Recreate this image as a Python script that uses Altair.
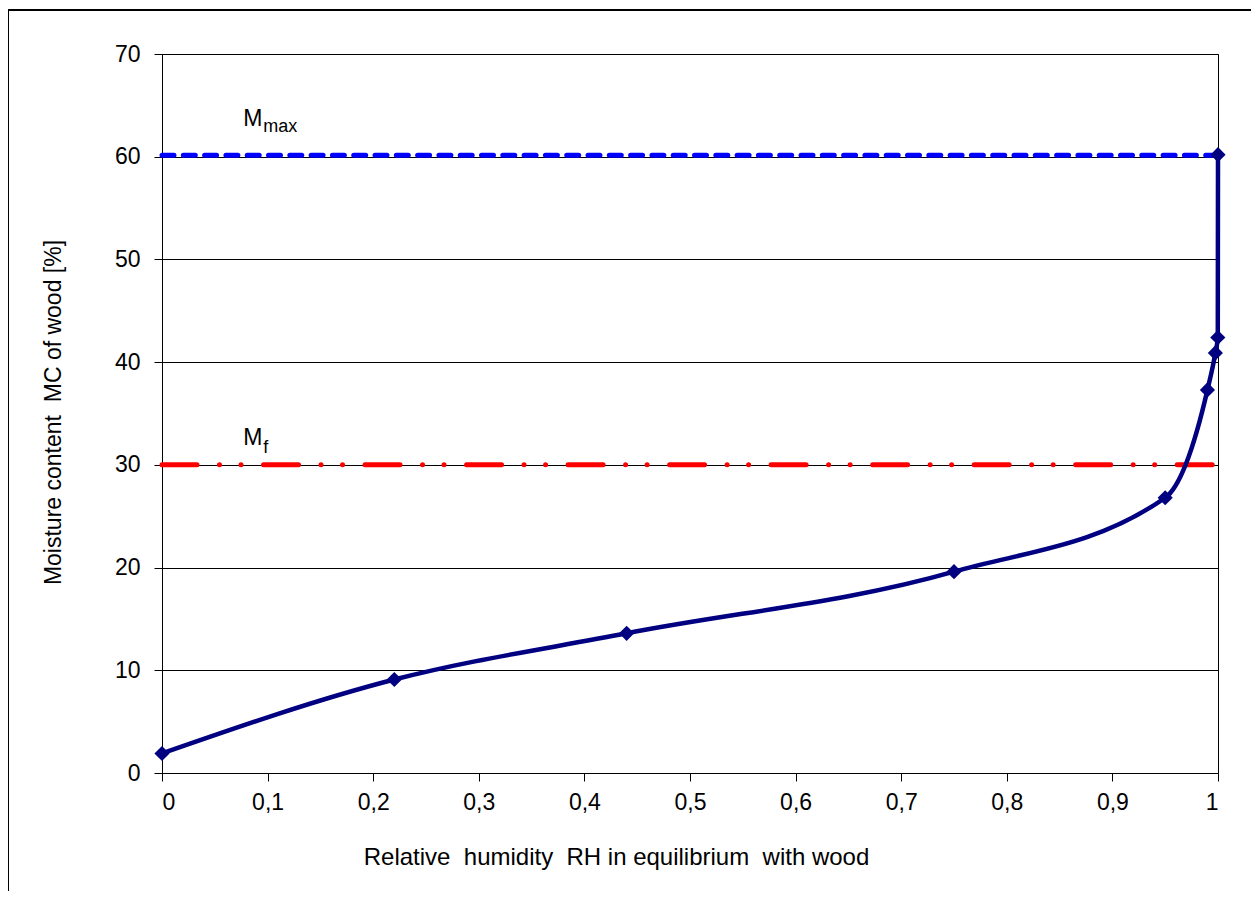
import altair as alt
import pandas as pd

# ---- data ----
rh = [0.0, 0.22, 0.44, 0.75, 0.95, 0.99, 0.9975, 0.9998, 1.0]
mc = [1.9, 9.1, 13.6, 19.6, 26.8, 37.3, 40.9, 42.4, 60.2]

ref_names = ["M", "M"]
ref_subs = ["max", "f"]
ref_values = [60.15, 30.0]
ref_label_x = [0.077, 0.077]

x_ticks = [0, 0.1, 0.2, 0.3, 0.4, 0.5, 0.6, 0.7, 0.8, 0.9, 1.0]
y_ticks = [0, 10, 20, 30, 40, 50, 60, 70]

NB = "\u00a0"
x_title = f"Relative {NB}humidity {NB}RH in equilibrium {NB}with wood"
y_title = f"Moisture content {NB}MC of wood [%]"

FONT = "Liberation Sans"
W, H = 1056, 719

curve = pd.DataFrame({"rh": rh, "mc": mc})
mmax = pd.DataFrame({"x0": [0.0], "x1": [1.0], "y": [ref_values[0]]})
mf = pd.DataFrame({"x0": [0.0], "x1": [1.0], "y": [ref_values[1]]})
lab_max = pd.DataFrame({"x": [ref_label_x[0]], "y": [ref_values[0]], "name": [ref_names[0]], "sub": [ref_subs[0]]})
lab_f = pd.DataFrame({"x": [ref_label_x[1]], "y": [ref_values[1]], "name": [ref_names[1]], "sub": [ref_subs[1]]})

xscale = alt.Scale(domain=[0, 1], nice=False, zero=False)
yscale = alt.Scale(domain=[0, 70], nice=False)

xaxis = alt.Axis(
    values=x_ticks,
    labelExpr="replace(format(datum.value, '.1~f'), '.', ',')",
    title=x_title, titleFontSize=24,
    titleX=454, titleY=91, titleBaseline="alphabetic", titleAlign="center",
    grid=False, tickSize=8, labelPadding=10,
)
yaxis = alt.Axis(
    values=y_ticks,
    title=y_title,
    grid=True, gridColor="black", gridWidth=1, tickSize=8, labelPadding=14,
    titleX=-102, titleY=358, titleAlign="center", titleBaseline="alphabetic", titleAngle=-90,
)

base = alt.Chart(curve)

line = base.mark_line(color="#000080", strokeWidth=4.5, interpolate="monotone").encode(
    x=alt.X("rh:Q", scale=xscale, axis=xaxis),
    y=alt.Y("mc:Q", scale=yscale, axis=yaxis),
)
pts = base.mark_point(shape="diamond", filled=True, color="#000080", size=230, opacity=1).encode(
    x=alt.X("rh:Q", scale=xscale), y=alt.Y("mc:Q", scale=yscale)
)

mmax_rule = alt.Chart(mmax).mark_rule(
    color="#0000FF", strokeWidth=5, strokeDash=[12, 9.3], strokeCap="round"
).encode(x=alt.X("x0:Q", scale=xscale), x2="x1:Q", y=alt.Y("y:Q", scale=yscale))

mf_rule = alt.Chart(mf).mark_rule(
    color="#FF0000", strokeWidth=5, strokeDash=[35, 22.5, 0.01, 21.5, 0.01, 22.5], strokeCap="round"
).encode(x=alt.X("x0:Q", scale=xscale), x2="x1:Q", y=alt.Y("y:Q", scale=yscale))


def label_layers(df, dy_big, dy_small):
    b = alt.Chart(df)
    big = b.mark_text(font=FONT, fontSize=23, align="left", baseline="alphabetic", color="black", dy=dy_big).encode(
        x=alt.X("x:Q", scale=xscale), y=alt.Y("y:Q", scale=yscale), text="name:N"
    )
    small = b.mark_text(font=FONT, fontSize=18, align="left", baseline="alphabetic", color="black",
                        dx=20, dy=dy_small).encode(
        x=alt.X("x:Q", scale=xscale), y=alt.Y("y:Q", scale=yscale), text="sub:N"
    )
    return [big, small]


frame_left = alt.Chart(curve).mark_rule(color="black", strokeWidth=1).encode(
    x=alt.value(-153.5), y=alt.value(-44), y2=alt.value(837)
)
frame_top = alt.Chart(curve).mark_rule(color="black", strokeWidth=1).encode(
    x=alt.value(-153.5), x2=alt.value(1089), y=alt.value(-44)
)

layers = [frame_left, frame_top, mf_rule, mmax_rule, line, pts]
layers += label_layers(lab_max, -29, -23)
layers += label_layers(lab_f, -20, -12)

chart = alt.layer(*layers).properties(
    width=W, height=H,
    background="white",
    autosize=alt.AutoSizeParams(type="none"),
    padding={"left": 154, "top": 46, "right": 33, "bottom": 118},
).configure_view(
    stroke="black", strokeWidth=1
).configure_axis(
    labelFont=FONT, titleFont=FONT, labelFontSize=23, titleFontSize=23,
    labelColor="black", titleColor="black", titleFontWeight="normal",
    domainColor="black", tickColor="black", domainWidth=1, tickWidth=1,
)

chart.save("out.html", embed_options={"renderer": "svg", "actions": False})
